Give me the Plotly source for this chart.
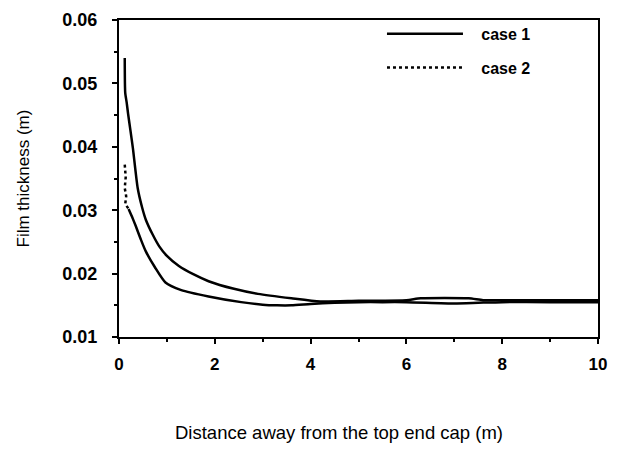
import plotly.graph_objects as go

# Case 1 (upper curve)
case1_x = [0.12, 0.13, 0.16, 0.19, 0.24, 0.29, 0.39, 0.48, 0.56, 0.7, 0.84, 1.0, 1.25, 1.55, 1.87, 2.4, 2.9, 3.6, 4.2, 5.0, 6.0, 6.3, 7.3, 7.6, 8.0, 9.0, 10.0]
case1_y = [0.054, 0.0485, 0.047, 0.0452, 0.0425, 0.0398, 0.0335, 0.0305, 0.0285, 0.0262, 0.0243, 0.0228, 0.0212, 0.0199, 0.0188, 0.0176, 0.0168, 0.0161, 0.0156, 0.0157, 0.0158, 0.0161, 0.0161, 0.0158, 0.0158, 0.0158, 0.0158]

# Case 2: initial dotted part, then the main decaying curve
case2_start_x = [0.12, 0.14, 0.12, 0.15, 0.13, 0.2]
case2_start_y = [0.0372, 0.0352, 0.0335, 0.0322, 0.031, 0.0302]
case2_x = [0.2, 0.27, 0.35, 0.45, 0.56, 0.75, 0.97, 1.3, 1.87, 2.55, 3.0, 3.3, 3.6, 4.0, 4.5, 5.0, 5.5, 6.0, 7.0, 7.5, 8.0, 9.0, 10.0]
case2_y = [0.0302, 0.029, 0.0275, 0.0255, 0.0235, 0.021, 0.0186, 0.0174, 0.0164, 0.0155, 0.0151, 0.0150, 0.0150, 0.0152, 0.0154, 0.0155, 0.0155, 0.0155, 0.0153, 0.0154, 0.0155, 0.0155, 0.0155]

x_ticks = [0, 2, 4, 6, 8, 10]
y_ticks = [0.01, 0.02, 0.03, 0.04, 0.05, 0.06]
legend_names = ["\u00a0\u00a0\u00a0case 1", "\u00a0\u00a0\u00a0case 2"]
x_title = "Distance away from the top end cap (m)"
y_title = "Film thickness (m)"

FONT = "Liberation Sans"

fig = go.Figure()
fig.add_trace(go.Scatter(x=case1_x, y=case1_y, mode="lines", name=legend_names[0],
                         legendgroup="c1",
                         line=dict(color="black", width=2.5, shape="spline", smoothing=0.6)))
fig.add_trace(go.Scatter(x=case2_start_x, y=case2_start_y, mode="lines", name=legend_names[1],
                         legendgroup="c2",
                         line=dict(color="black", width=2.5, dash="dot")))
fig.add_trace(go.Scatter(x=case2_x, y=case2_y, mode="lines", name=legend_names[1],
                         legendgroup="c2", showlegend=False,
                         line=dict(color="black", width=2.5, shape="spline", smoothing=0.6)))

fig.add_annotation(text=x_title, xref="paper", yref="paper", x=0.46, y=0,
                   xanchor="center", yanchor="middle", yshift=-95, showarrow=False,
                   font=dict(family=FONT, size=18.5, color="black"))

fig.update_layout(
    width=617, height=456,
    margin=dict(l=119, r=15, t=10, b=119),
    paper_bgcolor="white", plot_bgcolor="white",
    font=dict(family=FONT, color="black", size=16),
    showlegend=True,
    legend=dict(x=0.549, y=1.01, xanchor="left", yanchor="top",
                bgcolor="rgba(0,0,0,0)", tracegroupgap=10, itemwidth=76,
                font=dict(family=FONT, size=16, weight="bold")),
    xaxis=dict(range=[0, 10], tickvals=x_ticks, ticktext=[str(v) for v in x_ticks],
               showgrid=False, zeroline=False,
               showline=True, linecolor="black", linewidth=2, mirror=True,
               ticks="outside", ticklen=5, tickwidth=1.5, tickcolor="black",
               ticklabelstandoff=6,
               minor=dict(dtick=1, ticks="outside", ticklen=3, tickcolor="black", tickwidth=1.5),
               tickfont=dict(family=FONT, size=17, weight="bold")),
    yaxis=dict(range=[0.01, 0.06], tickvals=y_ticks,
               ticktext=["%.2f" % v for v in y_ticks],
               showgrid=False, zeroline=False,
               showline=True, linecolor="black", linewidth=2, mirror=True,
               ticks="outside", ticklen=5, tickwidth=1.5, tickcolor="black",
               ticklabelstandoff=11,
               minor=dict(dtick=0.005, ticks="outside", ticklen=3, tickcolor="black", tickwidth=1.5),
               tickfont=dict(family=FONT, size=18, weight="bold"),
               title=dict(text=y_title,
                          font=dict(family=FONT, size=17), standoff=28)),
)

fig.write_html("out.html", config={"displayModeBar": False},
               post_script="document.body.style.margin='0px';")
